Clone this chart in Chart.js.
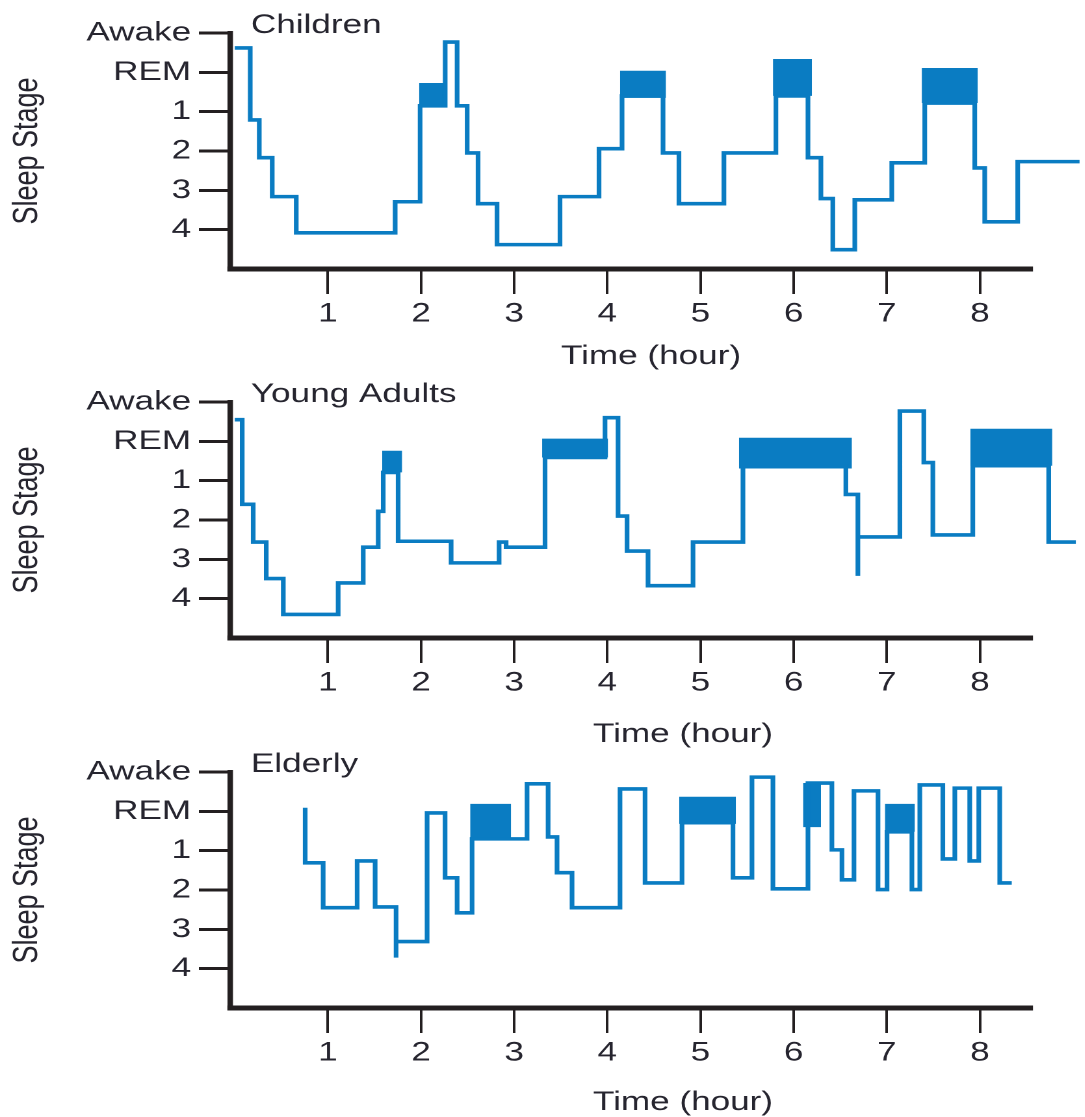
<!DOCTYPE html>
<html><head><meta charset="utf-8">
<script src="https://cdn.jsdelivr.net/npm/chart.js@4.4.1/dist/chart.umd.min.js"></script>
<style>
html,body{margin:0;padding:0;background:#fff;width:1085px;height:1117px;overflow:hidden;}
.panel{position:absolute;left:0;width:835px;height:390px;transform:scaleX(1.3);transform-origin:0 0;}
</style></head><body>
<div class="panel" style="top:0px"><canvas id="c1" width="835" height="390"></canvas></div>
<div class="panel" style="top:369px"><canvas id="c2" width="835" height="390"></canvas></div>
<div class="panel" style="top:739px"><canvas id="c3" width="835" height="390"></canvas></div>
<script>
// ---- shared axis data ----
const xTicks = [1, 2, 3, 4, 5, 6, 7, 8];
const stageTicks = [0, 1, 2, 3, 4, 5];
const stageLabels = ['Awake', 'REM', '1', '2', '3', '4'];

// ---- Children ----
const childTime = [0, 0.166, 0.263, 0.402, 0.660, 1.722, 1.990, 2.259, 2.387, 2.495, 2.612, 2.816, 3.492, 3.911, 4.158, 4.598, 4.769, 5.252, 5.810, 6.154, 6.293, 6.421, 6.657, 7.054, 7.408, 7.945, 8.052, 8.406, 9.07];
const childStage = [0.38, 2.21, 3.17, 4.16, 5.08, 4.29, 1.85, 0.23, 1.85, 3.05, 4.34, 5.38, 4.16, 2.94, 1.60, 3.05, 4.34, 3.05, 1.60, 3.17, 4.21, 5.51, 4.24, 3.30, 1.78, 3.43, 4.80, 3.27, 3.27];
const childRemStart = [1.979, 4.136, 5.778, 7.376];
const childRemEnd = [2.279, 4.630, 6.197, 7.977];
const childRemTop = [1.27, 0.96, 0.66, 0.89];
const childRemBottom = [1.88, 1.65, 1.60, 1.78];

// ---- Young Adults ----
const youngTime = [0, 0.080, 0.198, 0.338, 0.521, 1.110, 1.379, 1.540, 1.594, 1.754, 2.323, 2.838, 2.913, 3.331, 3.975, 4.115, 4.212, 4.437, 4.920, 5.456, 6.561, 6.690, 6.690, 7.141, 7.398, 7.495, 7.924, 8.739, 9.03];
const youngStage = [0.45, 2.60, 3.56, 4.49, 5.40, 4.60, 3.69, 2.78, 1.79, 3.54, 4.09, 3.56, 3.69, 1.41, 0.40, 2.90, 3.79, 4.67, 3.56, 1.64, 2.35, 4.42, 3.43, 0.23, 1.54, 3.38, 1.62, 3.56, 3.56];
const youngRemStart = [1.583, 3.300, 5.413, 7.897];
const youngRemEnd = [1.797, 4.008, 6.626, 8.777];
const youngRemTop = [1.24, 0.93, 0.91, 0.68];
const youngRemBottom = [1.79, 1.41, 1.69, 1.62];

// ---- Elderly ----
const oldTime = [0.756, 0.756, 0.949, 1.314, 1.507, 1.732, 1.732, 2.065, 2.258, 2.387, 2.548, 3.138, 3.364, 3.460, 3.621, 4.136, 4.405, 4.802, 5.349, 5.553, 5.778, 6.154, 6.411, 6.519, 6.648, 6.906, 7.003, 7.270, 7.355, 7.602, 7.731, 7.891, 7.988, 8.213, 8.342];
const oldStage = [0.91, 2.31, 3.45, 2.26, 3.43, 4.72, 4.31, 1.04, 2.69, 3.58, 1.70, 0.30, 1.65, 2.56, 3.45, 0.43, 2.82, 1.29, 2.69, 0.13, 2.97, 0.28, 1.98, 2.74, 0.48, 2.99, 1.52, 2.99, 0.33, 2.21, 0.41, 2.26, 0.41, 2.82, 2.82];
const oldRemStart = [2.527, 4.771, 6.101, 6.980];
const oldRemEnd = [2.967, 5.381, 6.294, 7.302];
const oldRemTop = [0.81, 0.63, 0.28, 0.81];
const oldRemBottom = [1.70, 1.32, 1.40, 1.52];

// ---- styles / layout ----
const FONT = '"Liberation Sans", Arial, Helvetica, sans-serif';
const BLUE = '#0a7cc2';
const TEXT = '#26252f';
const AXIS = '#231f20';
const X_MIN = -0.05, X_MAX = 9.12, AXIS_END = 8.57;
Chart.defaults.font.family = FONT;
Chart.defaults.font.size = 27;
Chart.defaults.color = TEXT;

const panelText = {
  id: 'panelText',
  beforeDatasetsDraw(chart) {
    const {ctx, chartArea, scales} = chart;
    ctx.save();
    ctx.strokeStyle = AXIS;
    ctx.lineWidth = 5;
    ctx.beginPath();
    ctx.moveTo(chartArea.left - 2.1, chartArea.bottom);
    ctx.lineTo(scales.x.getPixelForValue(AXIS_END), chartArea.bottom);
    ctx.stroke();
    ctx.restore();
  },
  afterDraw(chart, args, opts) {
    const {ctx, chartArea} = chart;
    ctx.save();
    ctx.font = '27px ' + FONT;
    ctx.fillStyle = TEXT;
    ctx.textBaseline = 'alphabetic';
    ctx.textAlign = 'left';
    ctx.fillText(opts.title, chartArea.left + 16, chartArea.top + opts.titleDy);
    ctx.textAlign = 'center';
    ctx.fillText('Time (hour)', opts.xTitleX, chartArea.bottom + opts.xTitleDy);
    ctx.restore();
  }
};

function makePanel(id, title, times, stages, rs, re, rt, rb, xTitleX, xTitleDy, titleDy) {
  const datasets = [{
    type: 'line',
    data: times.map((t, i) => ({x: t, y: stages[i]})),
    stepped: 'before',
    borderColor: BLUE,
    borderWidth: 3.6,
    borderJoinStyle: 'miter',
    borderCapStyle: 'butt',
    pointRadius: 0,
    fill: false,
    clip: false
  }];
  rs.forEach((s, i) => {
    datasets.push({
      type: 'line',
      data: [{x: s, y: rt[i]}, {x: re[i], y: rt[i]}],
      borderColor: 'rgba(0,0,0,0)',
      borderWidth: 0,
      pointRadius: 0,
      backgroundColor: BLUE,
      fill: {value: rb[i]},
      clip: false
    });
  });
  new Chart(document.getElementById(id), {
    type: 'line',
    data: {datasets},
    options: {
      responsive: false,
      devicePixelRatio: 2,
      animation: false,
      layout: {padding: {top: 33, right: 1, left: 0, bottom: 0}},
      plugins: {
        legend: {display: false},
        tooltip: {enabled: false},
        panelText: {title, xTitleX, xTitleDy, titleDy}
      },
      scales: {
        x: {
          type: 'linear', min: X_MIN, max: X_MAX,
          afterFit: s => { s.height = 121; },
          afterBuildTicks: s => { s.ticks = xTicks.map(v => ({value: v})); },
          ticks: {autoSkip: false, maxRotation: 0, padding: 4, color: TEXT, font: {size: 27}, callback: v => String(v)},
          grid: {drawOnChartArea: false, drawTicks: true, tickLength: 25, lineWidth: 2, tickWidth: 2, tickColor: AXIS, color: AXIS},
          border: {display: false}
        },
        y: {
          type: 'linear', reverse: true, min: 0, max: 6,
          afterFit: s => { s.width = 177; },
          afterBuildTicks: s => { s.ticks = stageTicks.map(v => ({value: v})); },
          ticks: {autoSkip: false, padding: 6, color: TEXT, font: {size: 27}, callback: v => stageLabels[v]},
          grid: {drawOnChartArea: false, drawTicks: true, tickLength: 24, lineWidth: 3, tickWidth: 3, tickColor: AXIS, color: AXIS},
          border: {display: true, width: 4.2, color: AXIS},
          title: {display: true, text: 'Sleep Stage', color: TEXT, font: {size: 27}, padding: {top: 5, bottom: 0}}
        }
      }
    },
    plugins: [panelText]
  });
}

makePanel('c1', 'Children', childTime, childStage, childRemStart, childRemEnd, childRemTop, childRemBottom, 500.8, 95, 0);
makePanel('c2', 'Young Adults', youngTime, youngStage, youngRemStart, youngRemEnd, youngRemTop, youngRemBottom, 525.4, 104, 0);
makePanel('c3', 'Elderly', oldTime, oldStage, oldRemStart, oldRemEnd, oldRemTop, oldRemBottom, 525.4, 102, 0);
</script>
</body></html>
